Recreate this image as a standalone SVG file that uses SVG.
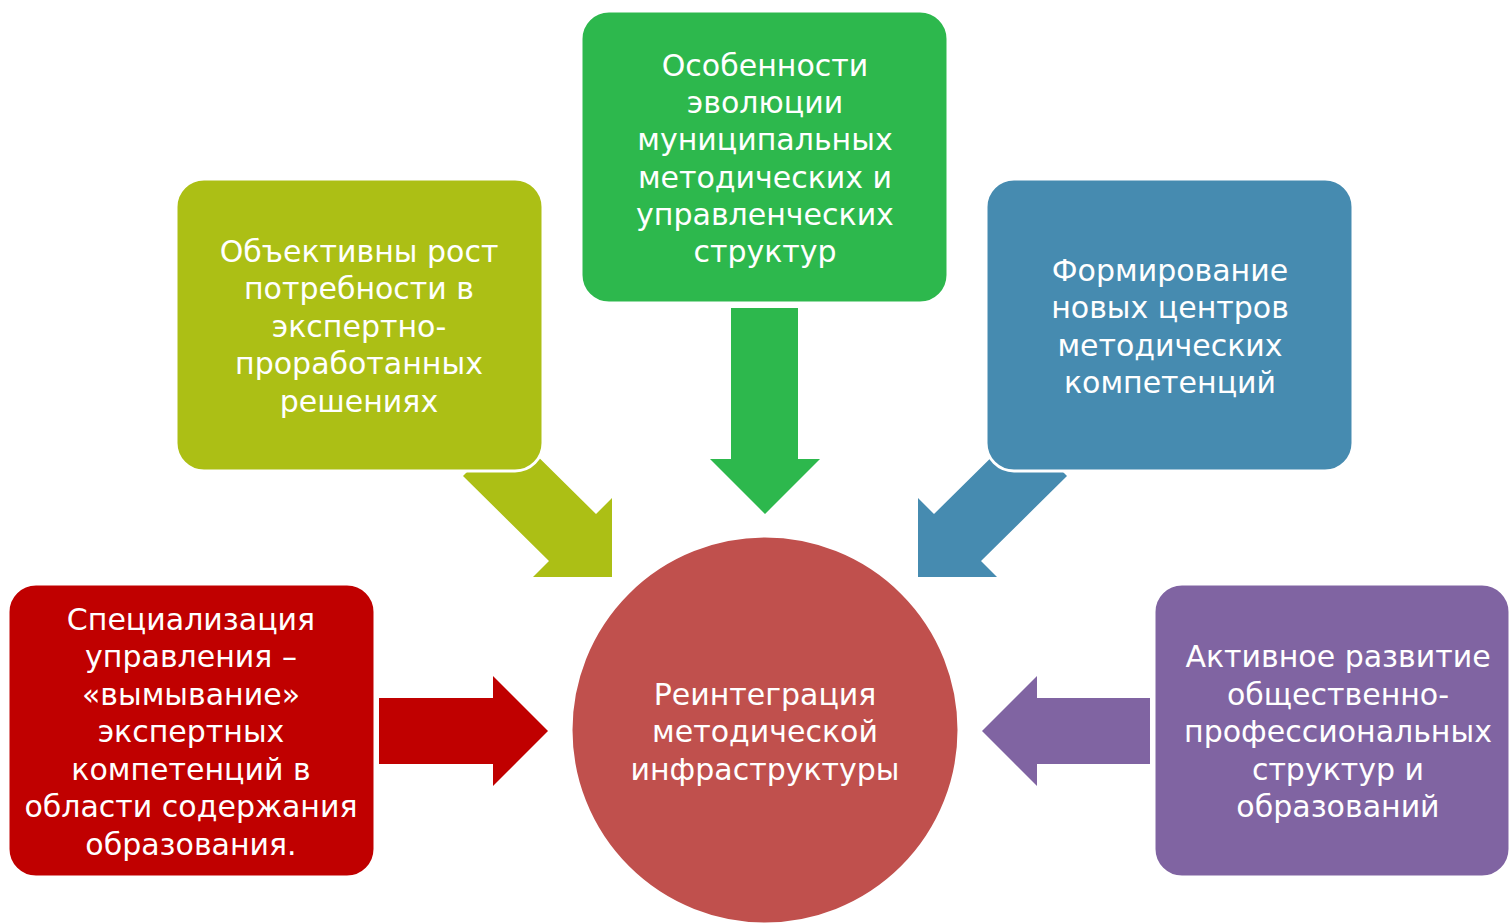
<svg xmlns="http://www.w3.org/2000/svg" width="1512" height="923" viewBox="0 0 1512 923">
<style>
.box{stroke:#fff;stroke-width:3}
.t{font-family:"DejaVu Sans","Noto Sans",sans-serif;font-size:30px;fill:#fff;text-anchor:middle}
</style>
<rect width="1512" height="923" fill="#fff"/>
<g id="connectors">
<polygon id="a-top" points="731,308 798,308 798,459 820,459 765,514 710,459 731,459" fill="#2DB84D"/>
<polygon id="a-left" points="379,698 493,698 493,676 548,731 493,786 493,764 379,764" fill="#C00000"/>
<polygon id="a-right" points="1150,698 1037,698 1037,676 982,731 1037,786 1037,764 1150,764" fill="#8064A2"/>
<polygon id="a-ul" points="463,476 510,429 596,514 612,498 612,577 533,577 549,561" fill="#ACBF15"/>
<polygon id="a-ur" points="1067,476 1020,429 934,514 918,498 918,577 997,577 981,561" fill="#468BB0"/>
</g>
<g id="n-olive">
<rect class="box" x="176" y="179" width="367" height="292" rx="28" fill="#ACBF15"/>
<text class="t" x="359" y="262">Объективны рост</text>
<text class="t" x="359" y="299">потребности в</text>
<text class="t" x="359" y="337">экспертно-</text>
<text class="t" x="359" y="374">проработанных</text>
<text class="t" x="359" y="412">решениях</text>
</g>
<g id="n-blue">
<rect class="box" x="986" y="179" width="367" height="292" rx="28" fill="#468BB0"/>
<text class="t" x="1170" y="281">Формирование</text>
<text class="t" x="1170" y="318">новых центров</text>
<text class="t" x="1170" y="356">методических</text>
<text class="t" x="1170" y="393">компетенций</text>
</g>
<g id="n-green">
<rect class="box" x="581" y="11" width="367" height="292" rx="28" fill="#2DB84D"/>
<text class="t" x="765" y="76">Особенности</text>
<text class="t" x="765" y="113">эволюции</text>
<text class="t" x="765" y="150">муниципальных</text>
<text class="t" x="765" y="188">методических и</text>
<text class="t" x="765" y="225">управленческих</text>
<text class="t" x="765" y="262">структур</text>
</g>
<g id="n-red">
<rect class="box" x="8" y="584" width="367" height="293" rx="28" fill="#C00000"/>
<text class="t" x="191" y="630">Специализация</text>
<text class="t" x="191" y="667">управления –</text>
<text class="t" x="191" y="705">«вымывание»</text>
<text class="t" x="191" y="742">экспертных</text>
<text class="t" x="191" y="780">компетенций в</text>
<text class="t" x="191" y="817">области содержания</text>
<text class="t" x="191" y="855">образования.</text>
</g>
<g id="n-purple">
<rect class="box" x="1154" y="584" width="356" height="293" rx="28" fill="#8064A2"/>
<text class="t" x="1338" y="667">Активное развитие</text>
<text class="t" x="1338" y="705">общественно-</text>
<text class="t" x="1338" y="742">профессиональных</text>
<text class="t" x="1338" y="780">структур и</text>
<text class="t" x="1338" y="817">образований</text>
</g>
<g id="n-center">
<circle class="box" cx="765" cy="730" r="194" fill="#C0504D"/>
<text class="t" x="765" y="705">Реинтеграция</text>
<text class="t" x="765" y="742">методической</text>
<text class="t" x="765" y="780">инфраструктуры</text>
</g>
</svg>
